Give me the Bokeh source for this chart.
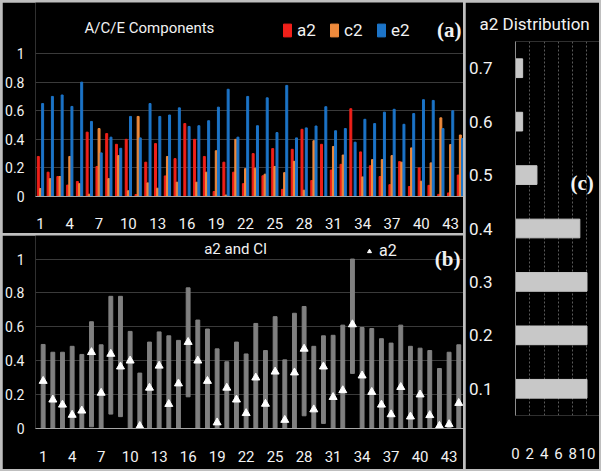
import numpy as np
from bokeh.plotting import figure
from bokeh.layouts import row, column
from bokeh.models import Range1d, FactorRange, FixedTicker, NumeralTickFormatter
from bokeh.core.properties import value
from bokeh.embed import file_html
from bokeh.resources import INLINE

# ---------------- data ----------------
items = list(range(1, 45))
a2 = [0.28, 0.17, 0.14, 0.08, 0.105, 0.45, 0.21, 0.44, 0.365, 0.40,
      0.014, 0.24, 0.37, 0.144, 0.265, 0.51, 0.40, 0.28, 0.035, 0.24,
      0.17, 0.09, 0.30, 0.145, 0.335, 0.05, 0.33, 0.47, 0.112, 0.365,
      0.185, 0.225, 0.614, 0.312, 0.215, 0.14, 0.083, 0.244, 0.07, 0.20,
      0.078, 0.015, 0.025, 0.15]
c2 = [0.056, 0.125, 0.14, 0.28, 0.09, 0.016, 0.475, 0.125, 0.286, 0.04,
      0.56, 0.095, 0.058, 0.28, 0.10, 0.0, 0.10, 0.17, 0.32, 0.01,
      0.40, 0.195, 0.198, 0.156, 0.21, 0.167, 0.246, 0.044, 0.39, 0.0,
      0.35, 0.29, 0.0, 0.137, 0.258, 0.258, 0.286, 0.24, 0.34, 0.107,
      0.235, 0.55, 0.363, 0.43]
e2 = [0.65, 0.70, 0.71, 0.63, 0.80, 0.525, 0.305, 0.415, 0.337, 0.56,
      0.41, 0.65, 0.56, 0.57, 0.62, 0.49, 0.495, 0.53, 0.625, 0.75,
      0.415, 0.70, 0.495, 0.69, 0.447, 0.777, 0.41, 0.48, 0.493, 0.628,
      0.46, 0.475, 0.38, 0.54, 0.51, 0.59, 0.61, 0.505, 0.58, 0.677,
      0.672, 0.475, 0.60, 0.405]
ci_low = [0, 0, 0, 0, 0, 0.01, 0, 0.085, 0.07, 0,
          0, 0, 0, 0, 0, 0.187, 0, 0, 0, 0,
          0, 0, 0, 0, 0, 0, 0, 0.075, 0, 0.03,
          0, 0, 0.325, 0, 0, 0, 0, 0, 0, 0,
          0, 0, 0, 0]
ci_high = [0.496, 0.45, 0.45, 0.485, 0.437, 0.63, 0.494, 0.78, 0.78, 0.573,
           0.327, 0.51, 0.57, 0.547, 0.52, 0.83, 0.64, 0.587, 0.47, 0.394,
           0.51, 0.44, 0.62, 0.46, 0.66, 0.405, 0.68, 0.72, 0.485, 0.547,
           0.55, 0.61, 1.0, 0.596, 0.59, 0.53, 0.504, 0.61, 0.485, 0.474,
           0.46, 0.354, 0.45, 0.494]
dist_bins = ["0.1", "0.2", "0.3", "0.4", "0.5", "0.6", "0.7"]
dist_counts = [10, 10, 10, 9, 3, 1, 1]
x_ticks = [1, 4, 7, 10, 13, 16, 19, 22, 25, 28, 31, 34, 37, 40, 43]
y_ticks = [0, 0.2, 0.4, 0.6, 0.8, 1.0]
dist_ticks = [0, 2, 4, 6, 8, 10]

# ---------------- style ----------------
BG = "#000000"
BORDER = "#bfbfbf"
TXT = "#f2f2f2"
GRID = "#3a3a3a"
RED = "#f0201a"
ORANGE = "#ee8a3c"
BLUE = "#1c74c8"
FONT = "Roboto"
SERIF = "Liberation Serif"

x = np.array(items, dtype=float)


def make_fig(width, height, x_range, y_range, left, bottom, top=0, title=None):
    p = figure(width=width, height=height, x_range=x_range, y_range=y_range,
               output_backend="svg", toolbar_location=None, title=title,
               background_fill_color=BG, border_fill_color=BG,
               outline_line_color=None,
               min_border_left=left, min_border_right=0,
               min_border_top=top, min_border_bottom=bottom)
    return p


def style_left_axes(p, standoff_x):
    p.yaxis.ticker = FixedTicker(ticks=y_ticks)
    p.yaxis.formatter = NumeralTickFormatter(format="0.[0]")
    p.yaxis.axis_line_color = None
    p.yaxis.major_tick_line_color = None
    p.yaxis.minor_tick_line_color = None
    p.yaxis.major_label_text_color = TXT
    p.yaxis.major_label_text_font = FONT
    p.yaxis.major_label_text_font_size = "14px"
    p.yaxis.major_label_standoff = 5
    p.xaxis.ticker = FixedTicker(ticks=x_ticks)
    p.xaxis.axis_line_color = "#a6a6a6"
    p.xaxis.major_tick_line_color = None
    p.xaxis.minor_tick_line_color = None
    p.xaxis.major_label_text_color = TXT
    p.xaxis.major_label_text_font = FONT
    p.xaxis.major_label_text_font_size = "15px"
    p.xaxis.major_label_standoff = standoff_x
    p.xgrid.grid_line_color = None
    p.ygrid.ticker = FixedTicker(ticks=y_ticks[1:])
    p.ygrid.grid_line_color = GRID


def style_legend(p, loc, spacing, size):
    lg = p.legend[0]
    lg.location = loc
    lg.orientation = "horizontal"
    lg.background_fill_alpha = 0
    lg.border_line_color = None
    lg.padding = 0
    lg.margin = 0
    lg.spacing = spacing
    lg.label_standoff = 5
    lg.glyph_width = 10
    lg.glyph_height = 16
    lg.label_text_color = TXT
    lg.label_text_font = FONT
    lg.label_text_font_size = size


# ---------------- panel (a) ----------------
pa = make_fig(461, 231, Range1d(0.49, 44.32), Range1d(0, 1.357), left=31, bottom=37)
style_left_axes(pa, 15)
pa.vbar(x=x - 0.22, top=a2, width=0.2, color=RED, legend_label="a2")
pa.vbar(x=x, top=c2, width=0.2, color=ORANGE, legend_label="c2")
pa.vbar(x=x + 0.22, top=e2, width=0.2, color=BLUE, legend_label="e2")
pa.text(x=[12.16], y=[1.178], text=["A/C/E Components"], text_font=value(FONT),
        text_font_size="15px", text_color=TXT, text_align="center", text_baseline="middle")
pa.text(x=[42.85], y=[1.164], text=["(a)"], text_font=value(SERIF), text_font_style="bold",
        text_font_size="21px", text_color=TXT, text_align="center", text_baseline="middle")
style_legend(pa, (247, 156), 12, "17px")

# ---------------- panel (b) ----------------
pb = make_fig(461, 234, Range1d(0.207, 44.49), Range1d(0, 1.139), left=31, bottom=41)
style_left_axes(pb, 16)
pb.vbar(x=x, bottom=ci_low, top=ci_high, width=0.4, color="#808080")
pb.scatter(x=x, y=a2, marker="triangle", size=8, color="#ffffff", legend_label="a2")
pb.text(x=[20.91], y=[1.06], text=["a2 and CI"], text_font=value(FONT),
        text_font_size="15px", text_color=TXT, text_align="center", text_baseline="middle")
pb.text(x=[42.84], y=[1.0], text=["(b)"], text_font=value(SERIF), text_font_style="bold",
        text_font_size="21px", text_color=TXT, text_align="center", text_baseline="middle")
style_legend(pb, (329, 168), 12, "16px")

# ---------------- panel (c) ----------------
pc = make_fig(134, 467, Range1d(0, 11.75), FactorRange(*dist_bins), left=40, bottom=54,
              top=39, title="a2 Distribution")
pc.title.align = "left"
pc.title.offset = -36
pc.title.standoff = 16
pc.title.text_color = TXT
pc.title.text_font = FONT
pc.title.text_font_style = "normal"
pc.title.text_font_size = "17px"
pc.hbar(y=dist_bins, left=0, right=dist_counts, height=0.35, color="#c8c8c8")
pc.text(x=[9.31], y=[4.36], text=["(c)"], text_font=value(SERIF), text_font_style="bold",
        text_font_size="21px", text_color=TXT, text_align="center", text_baseline="middle")
pc.yaxis.axis_line_color = "#8c8c8c"
pc.yaxis.major_tick_line_color = None
pc.yaxis.minor_tick_line_color = None
pc.yaxis.major_label_text_color = TXT
pc.yaxis.major_label_text_font = FONT
pc.yaxis.major_label_text_font_size = "17px"
pc.yaxis.major_label_standoff = 17
pc.xaxis.ticker = FixedTicker(ticks=dist_ticks)
pc.xaxis.axis_line_color = None
pc.xaxis.major_tick_line_color = None
pc.xaxis.minor_tick_line_color = None
pc.xaxis.major_label_text_color = TXT
pc.xaxis.major_label_text_font = FONT
pc.xaxis.major_label_text_font_size = "15px"
pc.xaxis.major_label_standoff = 26
pc.ygrid.grid_line_color = None
pc.xgrid.ticker = FixedTicker(ticks=dist_ticks[1:])
pc.xgrid.grid_line_color = "#5a5a5a"
pc.xgrid.grid_line_dash = "2 2"

left_col = column(pa, pb, spacing=2, styles={"background-color": BORDER})
layout = row(left_col, pc, spacing=2, styles={"background-color": BORDER, "padding": "2px"})

open("out.html", "w").write(file_html(layout, INLINE))
